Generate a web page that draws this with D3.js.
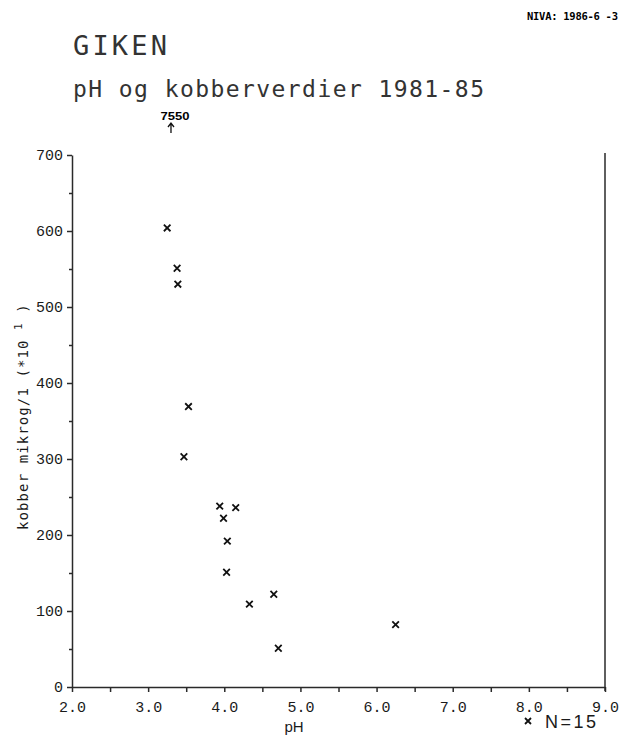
<!DOCTYPE html>
<html lang="en">
<head>
    <meta charset="UTF-8">
    <script src="https://cdn.jsdelivr.net/npm/d3@7"></script>
    <title>GIKEN</title>
    <style>
        body { margin: 0; background: #fff; }
        .title { font-family: "DejaVu Sans Mono", monospace; fill: #333; }
        .tick text { font-family: "Liberation Mono", monospace; font-size: 15px; fill: #1a1a1a; }
        .axis path, .axis line { stroke: #2a2a2a; stroke-width: 1.5; }
        .mark { stroke: #111; stroke-width: 1.8; fill: none; }
    </style>
</head>
<body>
<script>
    // pH and copper (in units of 10^1 microg/l)
    const ph = [3.25, 3.38, 3.39, 3.53, 3.47, 3.94, 4.15, 3.99, 4.04, 4.03, 4.65, 4.33, 4.71, 6.25, 3.30]
    const kobber = [604, 551, 530, 369, 303, 238, 236, 222, 192, 151, 122, 109, 51, 82, 755]
    const xTicks = [2, 2.5, 3, 3.5, 4, 4.5, 5, 5.5, 6, 6.5, 7, 7.5, 8, 8.5, 9]
    const yTicks = [0, 50, 100, 150, 200, 250, 300, 350, 400, 450, 500, 550, 600, 650, 700]

    const width = 624, height = 739
    const svg = d3.select("body").append("svg")
        .attr("width", width)
        .attr("height", height)

    const x = d3.scaleLinear().domain([2, 9]).range([72, 605])
    const y = d3.scaleLinear().domain([0, 700]).range([687, 155])

    const points = ph.map((p, i) => ({ph: p, cu: kobber[i]}))

    // titles
    svg.append("text").attr("class", "title")
        .attr("x", 73).attr("y", 55)
        .attr("font-size", 27)
        .attr("textLength", 94).attr("lengthAdjust", "spacing")
        .text("GIKEN")
    svg.append("text").attr("class", "title")
        .attr("x", 73).attr("y", 97)
        .attr("font-size", 23)
        .attr("textLength", 411).attr("lengthAdjust", "spacing")
        .text("pH og kobberverdier 1981-85")
    svg.append("text")
        .attr("x", 618).attr("y", 20)
        .attr("text-anchor", "end")
        .attr("font-family", "DejaVu Sans Mono, monospace")
        .attr("font-weight", "bold")
        .attr("font-size", 10.5)
        .attr("textLength", 91).attr("lengthAdjust", "spacing")
        .text("NIVA: 1986-6 -3")

    // axes
    svg.append("g").attr("class", "axis")
        .attr("transform", "translate(72,0)")
        .call(d3.axisLeft(y).tickValues(yTicks).tickSize(5).tickPadding(4).tickSizeOuter(0)
            .tickFormat(d => d % 100 === 0 ? d : ""))
        .call(g => g.selectAll(".tick line").attr("x2", d => d % 100 === 0 ? -5 : -3))

    svg.append("g").attr("class", "axis")
        .attr("transform", "translate(0,687)")
        .call(d3.axisBottom(x).tickValues(xTicks).tickSize(5).tickPadding(9).tickSizeOuter(0)
            .tickFormat(d => Number.isInteger(d) ? d3.format(".1f")(d) : ""))

    svg.append("line")
        .attr("x1", x(9)).attr("x2", x(9))
        .attr("y1", y(700) - 2).attr("y2", y(0) + 4)
        .attr("stroke-width", 1.5).attr("stroke", "#2a2a2a")

    // axis labels
    svg.append("text")
        .attr("x", 294).attr("y", 732)
        .attr("text-anchor", "middle")
        .attr("font-family", "Liberation Sans, sans-serif")
        .attr("font-size", 15)
        .attr("fill", "#1a1a1a")
        .text("pH")

    const yl = svg.append("text")
        .attr("transform", "translate(28,530) rotate(-90)")
        .attr("font-family", "DejaVu Sans Mono, monospace")
        .attr("font-size", 14)
        .attr("letter-spacing", 1.1)
        .attr("fill", "#1a1a1a")
    yl.append("tspan").text("kobber mikrog/1 (*10 ")
    yl.append("tspan").attr("dy", -6).attr("font-size", 11).text("1")
    yl.append("tspan").attr("dy", 6).text(" )")

    // in-range points as x marks
    const inRange = points.filter(d => d.cu <= 700)
    svg.append("g").selectAll("path")
        .data(inRange)
        .join("path")
        .attr("class", "mark")
        .attr("d", d => {
            const cx = x(d.ph), cy = y(d.cu), r = 3.3
            return `M${cx - r},${cy - r}L${cx + r},${cy + r}M${cx - r},${cy + r}L${cx + r},${cy - r}`
        })

    // off-scale points: arrow with the value
    const offScale = points.filter(d => d.cu > 700)
    offScale.forEach(d => {
        const cx = x(d.ph)
        svg.append("text")
            .attr("x", cx + 4).attr("y", 120)
            .attr("text-anchor", "middle")
            .attr("font-family", "Liberation Sans, sans-serif")
            .attr("font-weight", "bold")
            .attr("font-size", 11.5)
            .attr("textLength", 29).attr("lengthAdjust", "spacingAndGlyphs")
            .text(d.cu * 10)
        svg.append("path")
            .attr("d", `M${cx},133L${cx},124M${cx - 3},127L${cx},123L${cx + 3},127`)
            .attr("stroke", "#111").attr("stroke-width", 1.3).attr("fill", "none")
    })

    // legend
    svg.append("path").attr("class", "mark")
        .attr("d", "M525,718L531,724M525,724L531,718")
    svg.append("text")
        .attr("x", 545).attr("y", 728)
        .attr("font-family", "Liberation Sans, sans-serif")
        .attr("font-size", 18)
        .attr("textLength", 51).attr("lengthAdjust", "spacing")
        .attr("fill", "#1a1a1a")
        .text("N=" + points.length)
</script>
</body>
</html>
